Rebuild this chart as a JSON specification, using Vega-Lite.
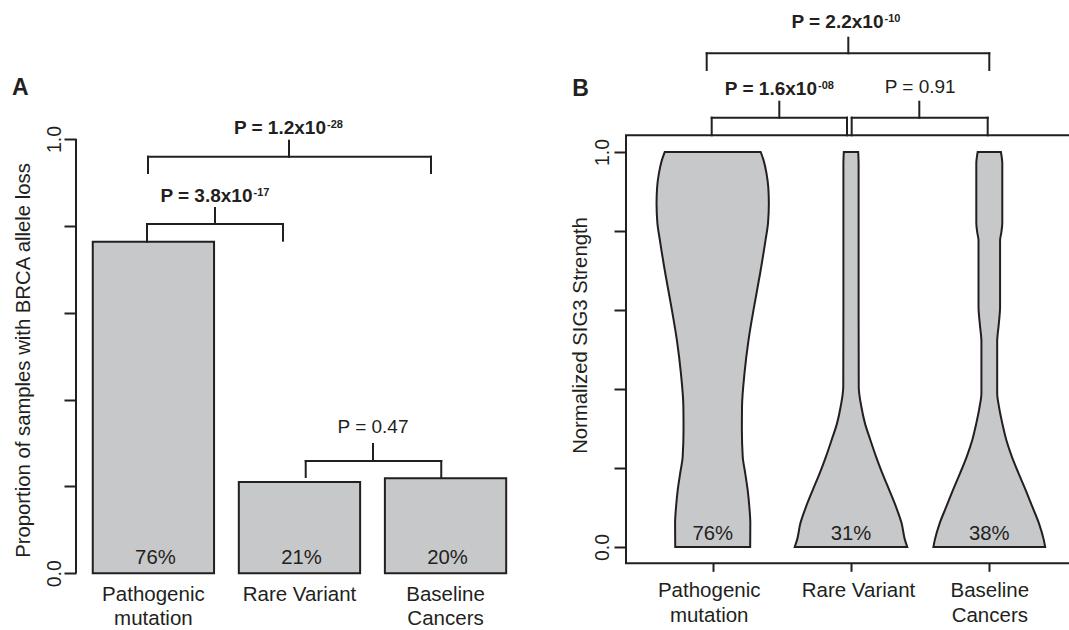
{
  "$schema": "https://vega.github.io/schema/vega-lite/v6.json",
  "width": 1069,
  "height": 630,
  "padding": 0,
  "autosize": {"type": "none"},
  "background": "white",
  "config": {
    "view": {"stroke": null},
    "font": "Liberation Sans",
    "text": {"font": "Liberation Sans", "color": "#231f20"},
    "axis": {"grid": false, "labelColor": "#231f20", "tickColor": "#231f20", "tickWidth": 2, "titleColor": "#231f20", "labelFont": "Liberation Sans", "titleFont": "Liberation Sans"},
    "axisLeft": {"domain": false, "tickSize": 12,
      "labelExpr": "datum.value === 0 || datum.value === 1 ? format(datum.value, '.1f') : ''",
      "labelOverlap": false, "labelFlush": false,
      "titleAngle": 270, "titleAlign": "center", "titleBaseline": "alphabetic", "titleFontWeight": "normal"},
    "axisBottom": {"domain": false, "tickSize": 8,
      "labelExpr": "datum.value === 1 ? ['Pathogenic', 'mutation'] : datum.value === 2 ? 'Rare Variant' : ['Baseline', 'Cancers']",
      "labelAngle": 0, "labelAlign": "center", "labelBaseline": "alphabetic", "labelPadding": 25, "labelLineHeight": 25, "labelOverlap": false, "labelFlush": false}
  },
  "datasets": {
    "barsA": [
      {"group": "Pathogenic mutation", "name": "Pathogenic\nmutation", "idx": 1, "p": 0.7635, "label": "76%"},
      {"group": "Rare Variant", "name": "Rare Variant", "idx": 2, "p": 0.210, "label": "21%"},
      {"group": "Baseline Cancers", "name": "Baseline\nCancers", "idx": 3, "p": 0.219, "label": "20%"}
    ],
    "bracketsA": [
      {"x": 0.9562, "x2": 0.9562, "y": 0.7635, "y2": 0.8043},
      {"x": 0.9562, "x2": 1.8872, "y": 0.8043, "y2": 0.8043},
      {"x": 1.8872, "x2": 1.8872, "y": 0.7658, "y2": 0.8043},
      {"x": 1.4217, "x2": 1.4217, "y": 0.8043, "y2": 0.8411},
      {"x": 0.9630, "x2": 0.9630, "y": 0.9217, "y2": 0.9592},
      {"x": 0.9630, "x2": 2.9005, "y": 0.9592, "y2": 0.9592},
      {"x": 2.9005, "x2": 2.9005, "y": 0.9217, "y2": 0.9592},
      {"x": 1.9283, "x2": 1.9283, "y": 0.9592, "y2": 0.9961},
      {"x": 2.0427, "x2": 2.0427, "y": 0.2217, "y2": 0.2586},
      {"x": 2.0427, "x2": 2.9706, "y": 0.2586, "y2": 0.2586},
      {"x": 2.9706, "x2": 2.9706, "y": 0.2217, "y2": 0.2586},
      {"x": 2.5034, "x2": 2.5034, "y": 0.2586, "y2": 0.2977}
    ],
    "pSupA": [
      {"main": "P = 3.8x10", "sup": "-17", "x": 1.6784, "y": 0.8556},
      {"main": "P = 1.2x10", "sup": "-28", "x": 2.1816, "y": 1.0117}
    ],
    "pPlainA": [
      {"text": "P = 0.47", "x": 2.5034, "y": 0.3237}
    ],
    "violins": [
      {"group": "Pathogenic mutation", "v": 0.0, "lo": 0.729, "hi": 1.271},
      {"group": "Pathogenic mutation", "v": 0.06, "lo": 0.728, "hi": 1.272},
      {"group": "Pathogenic mutation", "v": 0.102, "lo": 0.735, "hi": 1.265},
      {"group": "Pathogenic mutation", "v": 0.144, "lo": 0.747, "hi": 1.253},
      {"group": "Pathogenic mutation", "v": 0.187, "lo": 0.765, "hi": 1.235},
      {"group": "Pathogenic mutation", "v": 0.229, "lo": 0.783, "hi": 1.217},
      {"group": "Pathogenic mutation", "v": 0.296, "lo": 0.789, "hi": 1.211},
      {"group": "Pathogenic mutation", "v": 0.355, "lo": 0.788, "hi": 1.212},
      {"group": "Pathogenic mutation", "v": 0.44, "lo": 0.770, "hi": 1.230},
      {"group": "Pathogenic mutation", "v": 0.524, "lo": 0.741, "hi": 1.259},
      {"group": "Pathogenic mutation", "v": 0.608, "lo": 0.701, "hi": 1.299},
      {"group": "Pathogenic mutation", "v": 0.693, "lo": 0.657, "hi": 1.343},
      {"group": "Pathogenic mutation", "v": 0.777, "lo": 0.618, "hi": 1.382},
      {"group": "Pathogenic mutation", "v": 0.82, "lo": 0.600, "hi": 1.400},
      {"group": "Pathogenic mutation", "v": 0.87, "lo": 0.594, "hi": 1.406},
      {"group": "Pathogenic mutation", "v": 0.91, "lo": 0.598, "hi": 1.402},
      {"group": "Pathogenic mutation", "v": 0.946, "lo": 0.611, "hi": 1.389},
      {"group": "Pathogenic mutation", "v": 0.98, "lo": 0.633, "hi": 1.367},
      {"group": "Pathogenic mutation", "v": 1.0, "lo": 0.653, "hi": 1.347},
      {"group": "Rare Variant", "v": 0.0, "lo": 1.593, "hi": 2.407},
      {"group": "Rare Variant", "v": 0.018, "lo": 1.61, "hi": 2.39},
      {"group": "Rare Variant", "v": 0.06, "lo": 1.634, "hi": 2.366},
      {"group": "Rare Variant", "v": 0.102, "lo": 1.675, "hi": 2.325},
      {"group": "Rare Variant", "v": 0.144, "lo": 1.723, "hi": 2.277},
      {"group": "Rare Variant", "v": 0.187, "lo": 1.774, "hi": 2.226},
      {"group": "Rare Variant", "v": 0.229, "lo": 1.819, "hi": 2.181},
      {"group": "Rare Variant", "v": 0.271, "lo": 1.86, "hi": 2.14},
      {"group": "Rare Variant", "v": 0.313, "lo": 1.899, "hi": 2.101},
      {"group": "Rare Variant", "v": 0.355, "lo": 1.925, "hi": 2.075},
      {"group": "Rare Variant", "v": 0.406, "lo": 1.944, "hi": 2.056},
      {"group": "Rare Variant", "v": 0.6, "lo": 1.945, "hi": 2.055},
      {"group": "Rare Variant", "v": 0.8, "lo": 1.945, "hi": 2.055},
      {"group": "Rare Variant", "v": 0.97, "lo": 1.945, "hi": 2.055},
      {"group": "Rare Variant", "v": 1.0, "lo": 1.948, "hi": 2.052},
      {"group": "Baseline Cancers", "v": 0.0, "lo": 2.596, "hi": 3.404},
      {"group": "Baseline Cancers", "v": 0.018, "lo": 2.606, "hi": 3.394},
      {"group": "Baseline Cancers", "v": 0.06, "lo": 2.641, "hi": 3.359},
      {"group": "Baseline Cancers", "v": 0.102, "lo": 2.689, "hi": 3.311},
      {"group": "Baseline Cancers", "v": 0.144, "lo": 2.737, "hi": 3.263},
      {"group": "Baseline Cancers", "v": 0.187, "lo": 2.789, "hi": 3.211},
      {"group": "Baseline Cancers", "v": 0.229, "lo": 2.837, "hi": 3.163},
      {"group": "Baseline Cancers", "v": 0.271, "lo": 2.877, "hi": 3.123},
      {"group": "Baseline Cancers", "v": 0.313, "lo": 2.906, "hi": 3.094},
      {"group": "Baseline Cancers", "v": 0.355, "lo": 2.93, "hi": 3.07},
      {"group": "Baseline Cancers", "v": 0.39, "lo": 2.943, "hi": 3.057},
      {"group": "Baseline Cancers", "v": 0.52, "lo": 2.943, "hi": 3.057},
      {"group": "Baseline Cancers", "v": 0.566, "lo": 2.931, "hi": 3.069},
      {"group": "Baseline Cancers", "v": 0.608, "lo": 2.922, "hi": 3.078},
      {"group": "Baseline Cancers", "v": 0.777, "lo": 2.922, "hi": 3.078},
      {"group": "Baseline Cancers", "v": 0.794, "lo": 2.914, "hi": 3.086},
      {"group": "Baseline Cancers", "v": 0.82, "lo": 2.906, "hi": 3.094},
      {"group": "Baseline Cancers", "v": 0.97, "lo": 2.906, "hi": 3.094},
      {"group": "Baseline Cancers", "v": 1.0, "lo": 2.916, "hi": 3.084}
    ],
    "pctB": [
      {"group": "Pathogenic mutation", "idx": 1, "label": "76%"},
      {"group": "Rare Variant", "idx": 2, "label": "31%"},
      {"group": "Baseline Cancers", "idx": 3, "label": "38%"}
    ],
    "bracketsB": [
      {"x": 0.9566, "x2": 0.9566, "y": 1.2076, "y2": 1.2499},
      {"x": 0.9566, "x2": 3.0, "y": 1.2499, "y2": 1.2499},
      {"x": 3.0, "x2": 3.0, "y": 1.2076, "y2": 1.2499},
      {"x": 1.9805, "x2": 1.9805, "y": 1.2499, "y2": 1.2894},
      {"x": 0.9928, "x2": 0.9928, "y": 1.0423, "y2": 1.0868},
      {"x": 0.9928, "x2": 1.9711, "y": 1.0868, "y2": 1.0868},
      {"x": 1.9711, "x2": 1.9711, "y": 1.0423, "y2": 1.0868},
      {"x": 1.4816, "x2": 1.4816, "y": 1.0868, "y2": 1.1273},
      {"x": 2.005, "x2": 2.005, "y": 1.0423, "y2": 1.0868},
      {"x": 2.005, "x2": 2.9884, "y": 1.0868, "y2": 1.0868},
      {"x": 2.9884, "x2": 2.9884, "y": 1.0423, "y2": 1.0868},
      {"x": 2.4939, "x2": 2.4939, "y": 1.0868, "y2": 1.1273}
    ],
    "pSupB": [
      {"main": "P = 2.2x10", "sup": "-10", "x": 2.235, "y": 1.3132},
      {"main": "P = 1.6x10", "sup": "-08", "x": 1.754, "y": 1.1443}
    ],
    "pPlainB": [
      {"text": "P = 0.91", "x": 2.5, "y": 1.1486}
    ]
  },
  "layer": [
    {
      "layer": [
        {
          "data": {"name": "barsA"},
          "mark": {"type": "bar", "orient": "vertical", "width": 121.3, "fill": "#c7c8ca", "stroke": "#231f20", "strokeWidth": 2},
          "encoding": {
            "x": {"field": "idx", "type": "quantitative", "scale": {"domain": [-0.0502, 7.2682], "nice": false, "zero": false, "padding": 0}, "axis": null},
            "y": {"field": "p", "type": "quantitative", "scale": {"domain": [-0.1306, 1.3201], "nice": false, "zero": false, "padding": 0},
              "axis": {"orient": "left", "offset": -76, "values": [0, 0.2, 0.4, 0.6, 0.8, 1], "labelAngle": 270, "labelAlign": "center", "labelBaseline": "alphabetic", "labelFontSize": 19.5, "labelPadding": 4, "title": "Proportion of samples with BRCA allele loss", "titleFontSize": 20.3, "titleX": -47, "titleY": 360}}
          }
        },
        {
          "data": {"name": "barsA"},
          "mark": {"type": "text", "fontSize": 20.3, "baseline": "alphabetic", "align": "center", "dx": 2},
          "encoding": {
            "x": {"field": "idx", "type": "quantitative", "scale": {"domain": [-0.0502, 7.2682], "nice": false, "zero": false, "padding": 0}, "axis": null},
            "y": {"datum": 0.0214, "type": "quantitative", "scale": {"domain": [-0.1306, 1.3201], "nice": false, "zero": false, "padding": 0},
              "axis": {"orient": "left", "offset": -76, "values": [0, 0.2, 0.4, 0.6, 0.8, 1], "labelAngle": 270, "labelAlign": "center", "labelBaseline": "alphabetic", "labelFontSize": 19.5, "labelPadding": 4, "title": "Proportion of samples with BRCA allele loss", "titleFontSize": 20.3, "titleX": -47, "titleY": 360}},
            "text": {"field": "label"}
          }
        },
        {
          "data": {"name": "barsA"},
          "mark": {"type": "text", "fontSize": 20.5, "baseline": "alphabetic", "align": "center", "lineBreak": "\n", "lineHeight": 24},
          "encoding": {
            "x": {"field": "idx", "type": "quantitative", "scale": {"domain": [-0.0502, 7.2682], "nice": false, "zero": false, "padding": 0}, "axis": null},
            "y": {"datum": -0.0638, "type": "quantitative", "scale": {"domain": [-0.1306, 1.3201], "nice": false, "zero": false, "padding": 0},
              "axis": {"orient": "left", "offset": -76, "values": [0, 0.2, 0.4, 0.6, 0.8, 1], "labelAngle": 270, "labelAlign": "center", "labelBaseline": "alphabetic", "labelFontSize": 19.5, "labelPadding": 4, "title": "Proportion of samples with BRCA allele loss", "titleFontSize": 20.3, "titleX": -47, "titleY": 360}},
            "text": {"field": "name"}
          }
        },
        {
          "data": {"values": [{}]},
          "mark": {"type": "rule", "stroke": "#231f20", "strokeWidth": 2},
          "encoding": {
            "x": {"datum": 0.4701, "type": "quantitative", "scale": {"domain": [-0.0502, 7.2682], "nice": false, "zero": false, "padding": 0}, "axis": null},
            "y": {"datum": 0, "type": "quantitative", "scale": {"domain": [-0.1306, 1.3201], "nice": false, "zero": false, "padding": 0},
              "axis": {"orient": "left", "offset": -76, "values": [0, 0.2, 0.4, 0.6, 0.8, 1], "labelAngle": 270, "labelAlign": "center", "labelBaseline": "alphabetic", "labelFontSize": 19.5, "labelPadding": 4, "title": "Proportion of samples with BRCA allele loss", "titleFontSize": 20.3, "titleX": -47, "titleY": 360}},
            "y2": {"datum": 1}
          }
        },
        {
          "data": {"name": "bracketsA"},
          "mark": {"type": "rule", "stroke": "#231f20", "strokeWidth": 2, "strokeCap": "square"},
          "encoding": {
            "x": {"field": "x", "type": "quantitative", "scale": {"domain": [-0.0502, 7.2682], "nice": false, "zero": false, "padding": 0}, "axis": null},
            "x2": {"field": "x2"},
            "y": {"field": "y", "type": "quantitative", "scale": {"domain": [-0.1306, 1.3201], "nice": false, "zero": false, "padding": 0},
              "axis": {"orient": "left", "offset": -76, "values": [0, 0.2, 0.4, 0.6, 0.8, 1], "labelAngle": 270, "labelAlign": "center", "labelBaseline": "alphabetic", "labelFontSize": 19.5, "labelPadding": 4, "title": "Proportion of samples with BRCA allele loss", "titleFontSize": 20.3, "titleX": -47, "titleY": 360}},
            "y2": {"field": "y2"}
          }
        },
        {
          "data": {"name": "pSupA"},
          "mark": {"type": "text", "fontSize": 19, "fontWeight": "bold", "baseline": "alphabetic", "align": "right"},
          "encoding": {
            "x": {"field": "x", "type": "quantitative", "scale": {"domain": [-0.0502, 7.2682], "nice": false, "zero": false, "padding": 0}, "axis": null},
            "y": {"field": "y", "type": "quantitative", "scale": {"domain": [-0.1306, 1.3201], "nice": false, "zero": false, "padding": 0},
              "axis": {"orient": "left", "offset": -76, "values": [0, 0.2, 0.4, 0.6, 0.8, 1], "labelAngle": 270, "labelAlign": "center", "labelBaseline": "alphabetic", "labelFontSize": 19.5, "labelPadding": 4, "title": "Proportion of samples with BRCA allele loss", "titleFontSize": 20.3, "titleX": -47, "titleY": 360}},
            "text": {"field": "main"}
          }
        },
        {
          "data": {"name": "pSupA"},
          "mark": {"type": "text", "fontSize": 11, "fontWeight": "bold", "baseline": "alphabetic", "align": "left", "dy": -6, "dx": 1},
          "encoding": {
            "x": {"field": "x", "type": "quantitative", "scale": {"domain": [-0.0502, 7.2682], "nice": false, "zero": false, "padding": 0}, "axis": null},
            "y": {"field": "y", "type": "quantitative", "scale": {"domain": [-0.1306, 1.3201], "nice": false, "zero": false, "padding": 0},
              "axis": {"orient": "left", "offset": -76, "values": [0, 0.2, 0.4, 0.6, 0.8, 1], "labelAngle": 270, "labelAlign": "center", "labelBaseline": "alphabetic", "labelFontSize": 19.5, "labelPadding": 4, "title": "Proportion of samples with BRCA allele loss", "titleFontSize": 20.3, "titleX": -47, "titleY": 360}},
            "text": {"field": "sup"}
          }
        },
        {
          "data": {"name": "pPlainA"},
          "mark": {"type": "text", "fontSize": 19, "baseline": "alphabetic", "align": "center"},
          "encoding": {
            "x": {"field": "x", "type": "quantitative", "scale": {"domain": [-0.0502, 7.2682], "nice": false, "zero": false, "padding": 0}, "axis": null},
            "y": {"field": "y", "type": "quantitative", "scale": {"domain": [-0.1306, 1.3201], "nice": false, "zero": false, "padding": 0},
              "axis": {"orient": "left", "offset": -76, "values": [0, 0.2, 0.4, 0.6, 0.8, 1], "labelAngle": 270, "labelAlign": "center", "labelBaseline": "alphabetic", "labelFontSize": 19.5, "labelPadding": 4, "title": "Proportion of samples with BRCA allele loss", "titleFontSize": 20.3, "titleX": -47, "titleY": 360}},
            "text": {"field": "text"}
          }
        },
        {
          "data": {"values": [{"panel": "A"}]},
          "mark": {"type": "text", "fontSize": 23, "fontWeight": "bold", "baseline": "alphabetic", "align": "left"},
          "encoding": {
            "x": {"datum": 0.032, "type": "quantitative", "scale": {"domain": [-0.0502, 7.2682], "nice": false, "zero": false, "padding": 0}, "axis": null},
            "y": {"datum": 1.1013, "type": "quantitative", "scale": {"domain": [-0.1306, 1.3201], "nice": false, "zero": false, "padding": 0},
              "axis": {"orient": "left", "offset": -76, "values": [0, 0.2, 0.4, 0.6, 0.8, 1], "labelAngle": 270, "labelAlign": "center", "labelBaseline": "alphabetic", "labelFontSize": 19.5, "labelPadding": 4, "title": "Proportion of samples with BRCA allele loss", "titleFontSize": 20.3, "titleX": -47, "titleY": 360}},
            "text": {"field": "panel"}
          }
        }
      ]
    },
    {
      "layer": [
        {
          "data": {"name": "violins"},
          "mark": {"type": "area", "orient": "horizontal", "interpolate": "monotone", "fill": "#c7c8ca", "stroke": "#231f20", "strokeWidth": 2, "fillOpacity": 1},
          "encoding": {
            "y": {"field": "v", "type": "quantitative", "scale": {"domain": [-0.2101, 1.3848], "nice": false, "zero": false},
              "axis": {"orient": "left", "offset": -626, "values": [0, 0.2, 0.4, 0.6, 0.8, 1], "labelAngle": 270, "labelAlign": "center", "labelBaseline": "alphabetic", "labelFontSize": 19.5, "labelPadding": 6, "title": "Normalized SIG3 Strength", "titleFontSize": 20.3, "titleX": -39.3, "titleY": 335}},
            "x": {"field": "lo", "type": "quantitative", "stack": null, "scale": {"domain": [-4.1533, 3.5763], "nice": false, "zero": false},
              "axis": {"orient": "bottom", "offset": -66.7, "values": [1, 2, 3], "labelFontSize": 20.5, "labelOffset": {"condition": [{"test": "datum.value === 1", "value": -4}, {"test": "datum.value === 2", "value": 7}], "value": 0}, "title": null}},
            "x2": {"field": "hi"},
            "detail": {"field": "group"}
          }
        },
        {
          "data": {"values": [{}]},
          "mark": {"type": "rect", "fill": null, "fillOpacity": 0, "stroke": "#231f20", "strokeWidth": 2},
          "encoding": {
            "x": {"datum": 0.3731, "type": "quantitative", "scale": {"domain": [-4.1533, 3.5763], "nice": false, "zero": false},
              "axis": {"orient": "bottom", "offset": -66.7, "values": [1, 2, 3], "labelFontSize": 20.5, "labelOffset": {"condition": [{"test": "datum.value === 1", "value": -4}, {"test": "datum.value === 2", "value": 7}], "value": 0}, "title": null}},
            "x2": {"datum": 3.627},
            "y": {"datum": -0.0413, "type": "quantitative", "scale": {"domain": [-0.2101, 1.3848], "nice": false, "zero": false},
              "axis": {"orient": "left", "offset": -626, "values": [0, 0.2, 0.4, 0.6, 0.8, 1], "labelAngle": 270, "labelAlign": "center", "labelBaseline": "alphabetic", "labelFontSize": 19.5, "labelPadding": 6, "title": "Normalized SIG3 Strength", "titleFontSize": 20.3, "titleX": -39.3, "titleY": 335}},
            "y2": {"datum": 1.0423}
          }
        },
        {
          "data": {"name": "pctB"},
          "mark": {"type": "text", "fontSize": 20.3, "baseline": "alphabetic", "align": "center"},
          "encoding": {
            "x": {"field": "idx", "type": "quantitative", "scale": {"domain": [-4.1533, 3.5763], "nice": false, "zero": false},
              "axis": {"orient": "bottom", "offset": -66.7, "values": [1, 2, 3], "labelFontSize": 20.5, "labelOffset": {"condition": [{"test": "datum.value === 1", "value": -4}, {"test": "datum.value === 2", "value": 7}], "value": 0}, "title": null}},
            "y": {"datum": 0.0177, "type": "quantitative", "scale": {"domain": [-0.2101, 1.3848], "nice": false, "zero": false},
              "axis": {"orient": "left", "offset": -626, "values": [0, 0.2, 0.4, 0.6, 0.8, 1], "labelAngle": 270, "labelAlign": "center", "labelBaseline": "alphabetic", "labelFontSize": 19.5, "labelPadding": 6, "title": "Normalized SIG3 Strength", "titleFontSize": 20.3, "titleX": -39.3, "titleY": 335}},
            "text": {"field": "label"}
          }
        },
        {
          "data": {"name": "bracketsB"},
          "mark": {"type": "rule", "stroke": "#231f20", "strokeWidth": 2, "strokeCap": "square"},
          "encoding": {
            "x": {"field": "x", "type": "quantitative", "scale": {"domain": [-4.1533, 3.5763], "nice": false, "zero": false},
              "axis": {"orient": "bottom", "offset": -66.7, "values": [1, 2, 3], "labelFontSize": 20.5, "labelOffset": {"condition": [{"test": "datum.value === 1", "value": -4}, {"test": "datum.value === 2", "value": 7}], "value": 0}, "title": null}},
            "x2": {"field": "x2"},
            "y": {"field": "y", "type": "quantitative", "scale": {"domain": [-0.2101, 1.3848], "nice": false, "zero": false},
              "axis": {"orient": "left", "offset": -626, "values": [0, 0.2, 0.4, 0.6, 0.8, 1], "labelAngle": 270, "labelAlign": "center", "labelBaseline": "alphabetic", "labelFontSize": 19.5, "labelPadding": 6, "title": "Normalized SIG3 Strength", "titleFontSize": 20.3, "titleX": -39.3, "titleY": 335}},
            "y2": {"field": "y2"}
          }
        },
        {
          "data": {"name": "pSupB"},
          "mark": {"type": "text", "fontSize": 19, "fontWeight": "bold", "baseline": "alphabetic", "align": "right"},
          "encoding": {
            "x": {"field": "x", "type": "quantitative", "scale": {"domain": [-4.1533, 3.5763], "nice": false, "zero": false},
              "axis": {"orient": "bottom", "offset": -66.7, "values": [1, 2, 3], "labelFontSize": 20.5, "labelOffset": {"condition": [{"test": "datum.value === 1", "value": -4}, {"test": "datum.value === 2", "value": 7}], "value": 0}, "title": null}},
            "y": {"field": "y", "type": "quantitative", "scale": {"domain": [-0.2101, 1.3848], "nice": false, "zero": false},
              "axis": {"orient": "left", "offset": -626, "values": [0, 0.2, 0.4, 0.6, 0.8, 1], "labelAngle": 270, "labelAlign": "center", "labelBaseline": "alphabetic", "labelFontSize": 19.5, "labelPadding": 6, "title": "Normalized SIG3 Strength", "titleFontSize": 20.3, "titleX": -39.3, "titleY": 335}},
            "text": {"field": "main"}
          }
        },
        {
          "data": {"name": "pSupB"},
          "mark": {"type": "text", "fontSize": 11, "fontWeight": "bold", "baseline": "alphabetic", "align": "left", "dy": -6, "dx": 1},
          "encoding": {
            "x": {"field": "x", "type": "quantitative", "scale": {"domain": [-4.1533, 3.5763], "nice": false, "zero": false},
              "axis": {"orient": "bottom", "offset": -66.7, "values": [1, 2, 3], "labelFontSize": 20.5, "labelOffset": {"condition": [{"test": "datum.value === 1", "value": -4}, {"test": "datum.value === 2", "value": 7}], "value": 0}, "title": null}},
            "y": {"field": "y", "type": "quantitative", "scale": {"domain": [-0.2101, 1.3848], "nice": false, "zero": false},
              "axis": {"orient": "left", "offset": -626, "values": [0, 0.2, 0.4, 0.6, 0.8, 1], "labelAngle": 270, "labelAlign": "center", "labelBaseline": "alphabetic", "labelFontSize": 19.5, "labelPadding": 6, "title": "Normalized SIG3 Strength", "titleFontSize": 20.3, "titleX": -39.3, "titleY": 335}},
            "text": {"field": "sup"}
          }
        },
        {
          "data": {"name": "pPlainB"},
          "mark": {"type": "text", "fontSize": 19, "baseline": "alphabetic", "align": "center"},
          "encoding": {
            "x": {"field": "x", "type": "quantitative", "scale": {"domain": [-4.1533, 3.5763], "nice": false, "zero": false},
              "axis": {"orient": "bottom", "offset": -66.7, "values": [1, 2, 3], "labelFontSize": 20.5, "labelOffset": {"condition": [{"test": "datum.value === 1", "value": -4}, {"test": "datum.value === 2", "value": 7}], "value": 0}, "title": null}},
            "y": {"field": "y", "type": "quantitative", "scale": {"domain": [-0.2101, 1.3848], "nice": false, "zero": false},
              "axis": {"orient": "left", "offset": -626, "values": [0, 0.2, 0.4, 0.6, 0.8, 1], "labelAngle": 270, "labelAlign": "center", "labelBaseline": "alphabetic", "labelFontSize": 19.5, "labelPadding": 6, "title": "Normalized SIG3 Strength", "titleFontSize": 20.3, "titleX": -39.3, "titleY": 335}},
            "text": {"field": "text"}
          }
        },
        {
          "data": {"values": [{"panel": "B"}]},
          "mark": {"type": "text", "fontSize": 23, "fontWeight": "bold", "baseline": "alphabetic", "align": "left"},
          "encoding": {
            "x": {"datum": -0.0152, "type": "quantitative", "scale": {"domain": [-4.1533, 3.5763], "nice": false, "zero": false},
              "axis": {"orient": "bottom", "offset": -66.7, "values": [1, 2, 3], "labelFontSize": 20.5, "labelOffset": {"condition": [{"test": "datum.value === 1", "value": -4}, {"test": "datum.value === 2", "value": 7}], "value": 0}, "title": null}},
            "y": {"datum": 1.1418, "type": "quantitative", "scale": {"domain": [-0.2101, 1.3848], "nice": false, "zero": false},
              "axis": {"orient": "left", "offset": -626, "values": [0, 0.2, 0.4, 0.6, 0.8, 1], "labelAngle": 270, "labelAlign": "center", "labelBaseline": "alphabetic", "labelFontSize": 19.5, "labelPadding": 6, "title": "Normalized SIG3 Strength", "titleFontSize": 20.3, "titleX": -39.3, "titleY": 335}},
            "text": {"field": "panel"}
          }
        }
      ]
    }
  ],
  "resolve": {"scale": {"x": "independent", "y": "independent"}, "axis": {"x": "independent", "y": "independent"}}
}
